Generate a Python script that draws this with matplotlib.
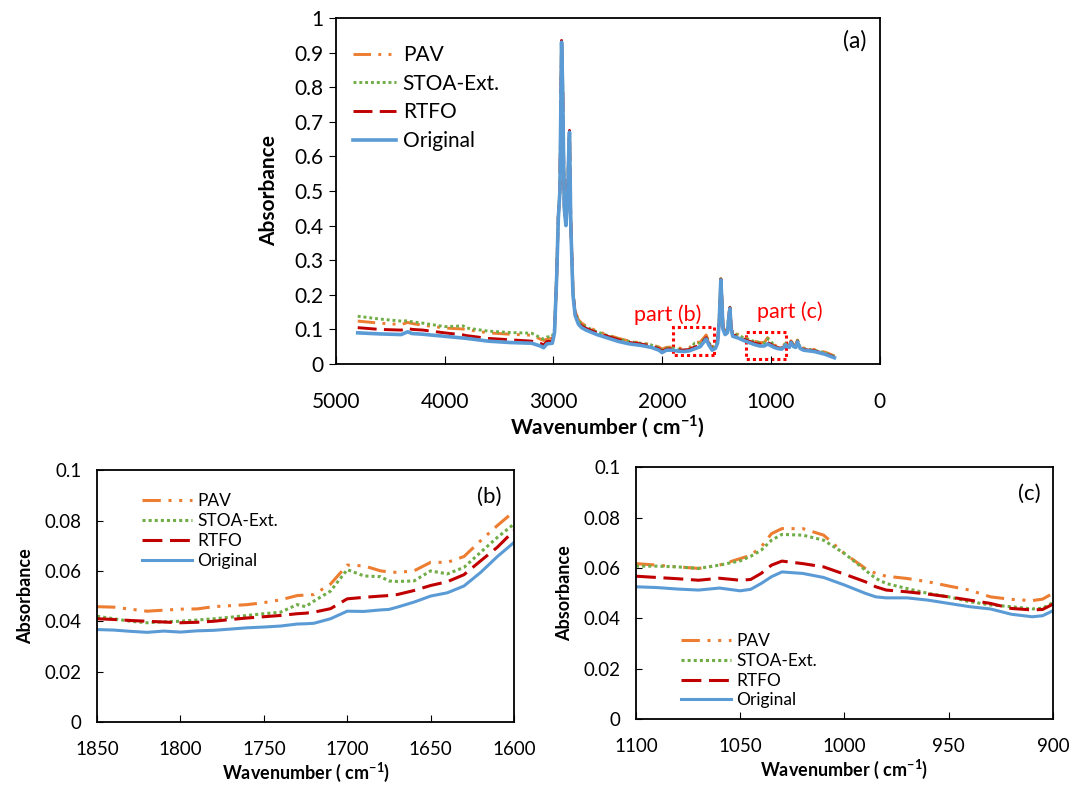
import matplotlib
matplotlib.use("Agg")
import matplotlib.pyplot as plt
from matplotlib.patches import Rectangle

plt.rcParams["font.family"] = ["Lato", "DejaVu Sans"]
plt.rcParams["mathtext.fontset"] = "custom"
plt.rcParams["mathtext.rm"] = "Lato"
plt.rcParams["mathtext.bf"] = "Lato:bold"

# ---- data: full spectrum (a) ----
wn_a = [4800, 4600, 4400, 4340, 4300, 4200, 4000, 3830, 3800, 3600, 3400, 3200,
        3120, 3090, 3060, 3010, 2990, 2970, 2955, 2940, 2925, 2915, 2900, 2885,
        2870, 2860, 2852, 2840, 2820, 2800, 2770, 2740, 2700, 2600, 2500, 2400,
        2300, 2200, 2100, 2030, 2000, 1960, 1900, 1850, 1800, 1750, 1700, 1650,
        1610, 1595, 1570, 1540, 1510, 1490, 1475, 1460, 1450, 1440, 1420, 1400,
        1385, 1376, 1365, 1350, 1300, 1250, 1200, 1150, 1100, 1060, 1030, 1000,
        970, 930, 900, 880, 865, 850, 830, 815, 790, 770, 755, 730, 700, 600,
        500, 450, 415]
original_a = [0.090, 0.087, 0.085, 0.093, 0.088, 0.086, 0.080, 0.075, 0.074, 0.066, 0.062, 0.060,
              0.052, 0.047, 0.058, 0.060, 0.090, 0.250, 0.420, 0.500, 0.930, 0.800, 0.450, 0.400,
              0.470, 0.600, 0.670, 0.400, 0.200, 0.140, 0.115, 0.105, 0.098, 0.085, 0.075, 0.065,
              0.058, 0.054, 0.048, 0.040, 0.033, 0.040, 0.040, 0.037, 0.036, 0.038, 0.044, 0.050,
              0.066, 0.072, 0.055, 0.040, 0.045, 0.060, 0.120, 0.243, 0.180, 0.100, 0.085, 0.090,
              0.140, 0.160, 0.100, 0.080, 0.075, 0.068, 0.062, 0.056, 0.052, 0.052, 0.058, 0.053,
              0.048, 0.044, 0.043, 0.048, 0.055, 0.050, 0.048, 0.062, 0.050, 0.048, 0.064, 0.045, 0.040, 0.036,
              0.028, 0.022, 0.018]
rtfo_a = [0.105, 0.100, 0.098, 0.103, 0.100, 0.098, 0.090, 0.084, 0.082, 0.074, 0.070, 0.066,
          0.060, 0.055, 0.065, 0.065, 0.095, 0.255, 0.425, 0.505, 0.935, 0.805, 0.455, 0.405,
          0.475, 0.605, 0.675, 0.405, 0.205, 0.145, 0.120, 0.110, 0.103, 0.090, 0.080, 0.070,
          0.062, 0.058, 0.052, 0.044, 0.037, 0.043, 0.044, 0.041, 0.040, 0.042, 0.049, 0.054,
          0.070, 0.076, 0.059, 0.044, 0.049, 0.064, 0.124, 0.245, 0.183, 0.104, 0.089, 0.094,
          0.143, 0.163, 0.104, 0.084, 0.079, 0.072, 0.066, 0.060, 0.057, 0.055, 0.062, 0.057,
          0.051, 0.047, 0.045, 0.050, 0.057, 0.052, 0.050, 0.064, 0.052, 0.050, 0.066, 0.047, 0.042, 0.038,
          0.030, 0.024, 0.020]
stoa_a = [0.138, 0.130, 0.124, 0.125, 0.122, 0.118, 0.108, 0.110, 0.104, 0.095, 0.091, 0.089,
          0.076, 0.072, 0.078, 0.080, 0.100, 0.258, 0.428, 0.505, 0.930, 0.802, 0.455, 0.405,
          0.475, 0.603, 0.670, 0.405, 0.210, 0.150, 0.125, 0.115, 0.107, 0.093, 0.082, 0.072,
          0.065, 0.060, 0.055, 0.047, 0.040, 0.046, 0.046, 0.042, 0.040, 0.043, 0.060, 0.060,
          0.073, 0.079, 0.062, 0.047, 0.052, 0.066, 0.126, 0.246, 0.185, 0.107, 0.092, 0.096,
          0.145, 0.164, 0.107, 0.088, 0.083, 0.076, 0.070, 0.065, 0.061, 0.061, 0.073, 0.066,
          0.053, 0.045, 0.046, 0.052, 0.059, 0.054, 0.052, 0.066, 0.054, 0.052, 0.068, 0.049, 0.044, 0.040,
          0.032, 0.026, 0.022]
pav_a = [0.124, 0.118, 0.114, 0.120, 0.117, 0.112, 0.104, 0.101, 0.099, 0.090, 0.086, 0.083,
         0.072, 0.068, 0.072, 0.075, 0.098, 0.256, 0.426, 0.505, 0.932, 0.803, 0.456, 0.406,
         0.476, 0.604, 0.672, 0.406, 0.212, 0.152, 0.128, 0.118, 0.110, 0.095, 0.084, 0.074,
         0.066, 0.061, 0.056, 0.049, 0.043, 0.048, 0.049, 0.046, 0.045, 0.047, 0.062, 0.063,
         0.078, 0.084, 0.065, 0.050, 0.054, 0.068, 0.128, 0.247, 0.186, 0.109, 0.094, 0.098,
         0.146, 0.165, 0.109, 0.090, 0.085, 0.078, 0.072, 0.066, 0.062, 0.062, 0.076, 0.066,
         0.056, 0.048, 0.050, 0.054, 0.061, 0.056, 0.054, 0.067, 0.056, 0.054, 0.069, 0.051, 0.046, 0.042,
         0.034, 0.028, 0.023]

# ---- data: part (b) 1850-1600 ----
wn_b = [1850, 1840, 1830, 1820, 1810, 1800, 1790, 1780, 1770, 1760, 1750, 1740, 1730,
        1725, 1720, 1710, 1700, 1690, 1680, 1675, 1670, 1660, 1650, 1640, 1630,
        1620, 1610, 1600]
original_b = [0.0367, 0.0365, 0.0360, 0.0356, 0.0361, 0.0357, 0.0362, 0.0364, 0.0369, 0.0374, 0.0377,
              0.0381, 0.0389, 0.0390, 0.0392, 0.0410, 0.0440, 0.0439, 0.0445, 0.0447, 0.0456, 0.0476,
              0.0500, 0.0513, 0.0540, 0.0594, 0.0657, 0.0713]
rtfo_b = [0.0410, 0.0407, 0.0403, 0.0400, 0.0397, 0.0394, 0.0396, 0.0400, 0.0407, 0.0413, 0.0418,
          0.0423, 0.0430, 0.0432, 0.0436, 0.0450, 0.0489, 0.0495, 0.0500, 0.0502, 0.0506, 0.0522,
          0.0542, 0.0557, 0.0585, 0.0640, 0.0694, 0.0760]
stoa_b = [0.0420, 0.0410, 0.0400, 0.0394, 0.0398, 0.0400, 0.0405, 0.0410, 0.0416, 0.0423, 0.0430,
          0.0436, 0.0466, 0.0458, 0.0480, 0.0520, 0.0605, 0.0580, 0.0577, 0.0560, 0.0558, 0.0560,
          0.0600, 0.0588, 0.0614, 0.0674, 0.0733, 0.0786]
pav_b = [0.0458, 0.0456, 0.0448, 0.0440, 0.0444, 0.0448, 0.0449, 0.0458, 0.0462, 0.0466, 0.0474,
         0.0485, 0.0502, 0.0504, 0.0506, 0.0548, 0.0623, 0.0620, 0.0600, 0.0596, 0.0594, 0.0600,
         0.0634, 0.0634, 0.0657, 0.0720, 0.0780, 0.0836]

# ---- data: part (c) 1100-900 ----
wn_c = [1100, 1090, 1080, 1070, 1060, 1050, 1045, 1040, 1035, 1030, 1020, 1010, 1000,
        990, 985, 980, 970, 960, 950, 940, 930, 920, 910, 905, 900]
original_c = [0.0525, 0.0522, 0.0516, 0.0512, 0.0520, 0.0509, 0.0515, 0.0538, 0.0565, 0.0584,
              0.0578, 0.0562, 0.0532, 0.0499, 0.0485, 0.0481, 0.0481, 0.0472, 0.0459, 0.0446,
              0.0437, 0.0416, 0.0406, 0.0410, 0.0430]
rtfo_c = [0.0567, 0.0562, 0.0557, 0.0551, 0.0559, 0.0551, 0.0554, 0.0578, 0.0611, 0.0627,
          0.0617, 0.0604, 0.0575, 0.0545, 0.0525, 0.0512, 0.0505, 0.0496, 0.0485, 0.0472,
          0.0459, 0.0439, 0.0433, 0.0435, 0.0456]
stoa_c = [0.0607, 0.0607, 0.0604, 0.0598, 0.0611, 0.0628, 0.0646, 0.0670, 0.0710, 0.0733,
          0.0730, 0.0710, 0.0657, 0.0591, 0.0558, 0.0538, 0.0518, 0.0499, 0.0485, 0.0466,
          0.0453, 0.0446, 0.0437, 0.0440, 0.0462]
pav_c = [0.0617, 0.0611, 0.0604, 0.0598, 0.0611, 0.0637, 0.0650, 0.0683, 0.0736, 0.0756,
         0.0756, 0.0730, 0.0657, 0.0598, 0.0578, 0.0567, 0.0558, 0.0545, 0.0528, 0.0512,
         0.0485, 0.0475, 0.0470, 0.0476, 0.0499]

labels = ["PAV", "STOA-Ext.", "RTFO", "Original"]
colors = ["#ED7D31", "#70AD47", "#C00000", "#5B9BD5"]
styles = [(0, (6, 2.5, 1, 2.5, 1, 2.5)), (0, (1, 1)), (0, (6.5, 2.5)), "-"]

xlabel = r"Wavenumber ( cm$^{\mathbf{-1}}$)"


def fmt(v, _pos=None):
    s = ("%.2f" % v).rstrip("0").rstrip(".")
    return s


fig = plt.figure(figsize=(10.7, 7.87), dpi=100)

# ---- (a) ----
ax = fig.add_axes([0.314, 0.5375, 0.508, 0.4397])
series_a = [pav_a, stoa_a, rtfo_a, original_a]
for ys, lab, c, ls in zip(series_a, labels, colors, styles):
    lw = 2.6 if lab == "Original" else 2.1
    ax.plot(wn_a, ys, color=c, ls=ls, lw=lw, label=lab)
ax.set_xlim(5000, 0)
ax.set_ylim(0, 1)
ax.set_xticks([5000, 4000, 3000, 2000, 1000, 0])
ax.set_yticks([i / 10 for i in range(11)])
ax.yaxis.set_major_formatter(plt.FuncFormatter(fmt))
ax.tick_params(axis="x", direction="in", length=6, pad=20, labelsize=15)
ax.tick_params(axis="y", direction="out", length=5, pad=4, labelsize=15)
ax.set_ylabel("Absorbance", fontsize=15, fontweight="bold", labelpad=11)
ax.set_xlabel(xlabel, fontsize=15, fontweight="bold", labelpad=1)
for sp in ax.spines.values():
    sp.set_linewidth(1.3)
ax.legend(loc="upper left", bbox_to_anchor=(0.0, 0.97), frameon=False, fontsize=15,
          handlelength=2.1, handletextpad=0.3, labelspacing=0.42, borderaxespad=0.4)
ax.text(0.975, 0.965, "(a)", transform=ax.transAxes, ha="right", va="top", fontsize=16.5)
ax.add_patch(Rectangle((1526, 0.026), 377, 0.081, fill=False, ec="red", ls=(0, (1, 1)), lw=2.2))
ax.add_patch(Rectangle((864, 0.014), 368, 0.078, fill=False, ec="red", ls=(0, (1, 1)), lw=2.2))
ax.text(1949, 0.142, "part (b)", color="red", ha="center", va="center", fontsize=15.5)
ax.text(827, 0.150, "part (c)", color="red", ha="center", va="center", fontsize=15.5)

# ---- (b) and (c) ----
def small_panel(rect, wn, series, xlim, xticks, tag, legloc, legbox):
    a = fig.add_axes(rect)
    for ys, lab, c, ls in zip(series, labels, colors, styles):
        a.plot(wn, ys, color=c, ls=ls, lw=2.2, label=lab)
    a.set_xlim(*xlim)
    a.set_ylim(0, 0.1)
    a.set_xticks(xticks)
    a.set_yticks([0, 0.02, 0.04, 0.06, 0.08, 0.1])
    a.yaxis.set_major_formatter(plt.FuncFormatter(fmt))
    a.tick_params(axis="x", direction="in", length=5, pad=14, labelsize=13.5)
    a.tick_params(axis="y", direction="in", length=4, pad=11, labelsize=13.5)
    a.set_ylabel("Absorbance", fontsize=13, fontweight="bold", labelpad=8)
    a.set_xlabel(xlabel, fontsize=13, fontweight="bold", labelpad=2)
    for sp in a.spines.values():
        sp.set_linewidth(1.3)
    a.legend(loc=legloc, bbox_to_anchor=legbox, frameon=False, fontsize=12.5,
             handlelength=2.9, handletextpad=0.3, labelspacing=0.22)
    a.text(0.97, 0.935, tag, transform=a.transAxes, ha="right", va="top", fontsize=16)
    return a


small_panel([0.0907, 0.0826, 0.3897, 0.320], wn_b, [pav_b, stoa_b, rtfo_b, original_b],
            (1850, 1600), [1850, 1800, 1750, 1700, 1650, 1600], "(b)", "upper left", (0.07, 0.97))
small_panel([0.5944, 0.0864, 0.3897, 0.320], wn_c, [pav_c, stoa_c, rtfo_c, original_c],
            (1100, 900), [1100, 1050, 1000, 950, 900], "(c)", "lower left", (0.07, -0.02))

fig.savefig("out.png", dpi=100)
